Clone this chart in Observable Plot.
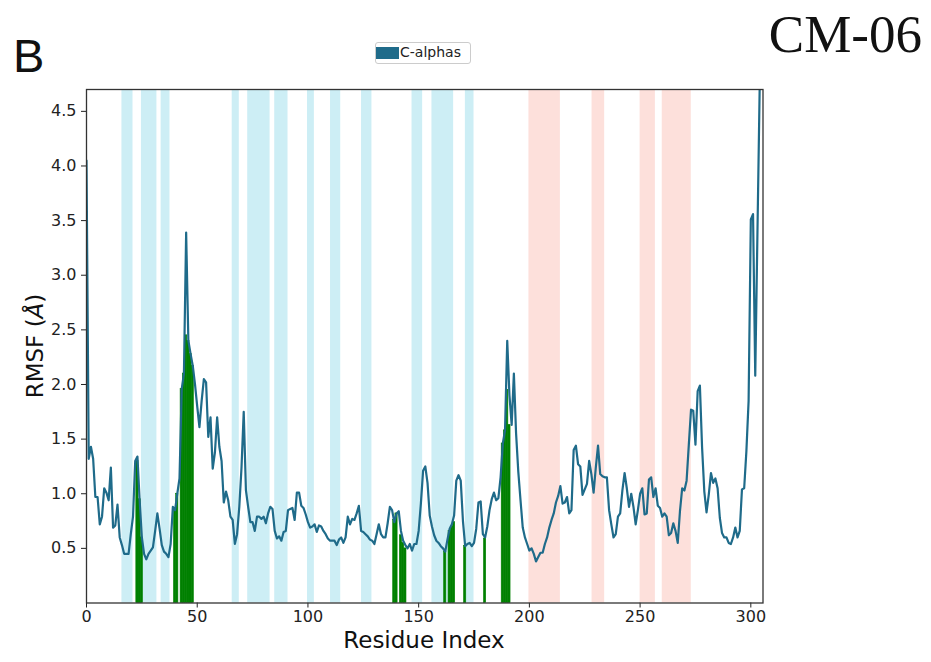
<!DOCTYPE html>
<html>
<head>
<meta charset="utf-8">
<script src="https://cdn.jsdelivr.net/npm/d3@7"></script>
<script src="https://cdn.jsdelivr.net/npm/@observablehq/plot@0.6"></script>
<style>
  body { margin: 0; background: #fff; }
  #wrap { position: relative; width: 931px; height: 662px; overflow: hidden; }
  #wrap svg { position: absolute; left: 0; top: 0; }
  .ov { position: absolute; white-space: nowrap; color: #111; }
  #panel { left: 13px; top: 28px; font: 47px "Liberation Sans", Arial, sans-serif; }
  #title { right: 9px; top: 4px; font: 53px "Liberation Serif", "Times New Roman", serif; }
  #legend { left: 375px; top: 42px; width: 96px; height: 22px; border: 1px solid #ccc; border-radius: 3px; background: #fff; box-sizing: border-box; }
  #legend .sw { position: absolute; left: 0px; top: 4px; width: 23px; height: 12px; background: #1f6b8a; }
  #legend .tx { position: absolute; left: 24px; top: 1px; font: 14px "DejaVu Sans", sans-serif; color: #222; }
  #xlabel { left: 424px; top: 627px; transform: translateX(-50%); font: 23px "DejaVu Sans", sans-serif; }
  #ylabel { left: 35px; top: 346px; transform: translate(-50%, -50%) rotate(-90deg); font: 23px "DejaVu Sans", sans-serif; }
</style>
</head>
<body>
<div id="wrap">
  <div class="ov" id="panel">B</div>
  <div class="ov" id="title">CM-06</div>
  <div class="ov" id="legend"><div class="sw"></div><div class="tx">C-alphas</div></div>
  <div class="ov" id="xlabel">Residue Index</div>
  <div class="ov" id="ylabel">RMSF (<i>Å</i>)</div>
</div>
<script>
// RMSF of C-alpha atoms per residue index (0..304)
const rmsf = [
  4.05, 1.32, 1.43, 1.32, 0.97, 0.97, 0.72, 0.79, 1.05, 1.01,
  0.94, 1.24, 0.69, 0.71, 0.90, 0.60, 0.53, 0.45, 0.45, 0.45,
  0.63, 0.79, 1.30, 1.34, 0.94, 0.60, 0.45, 0.40, 0.45, 0.48,
  0.51, 0.66, 0.82, 0.68, 0.53, 0.47, 0.45, 0.42, 0.54, 0.88,
  0.85, 1.00, 1.14, 1.96, 2.10, 3.39, 2.40, 2.28, 2.17, 2.00,
  1.80, 1.61, 1.85, 2.05, 2.02, 1.52, 1.70, 1.23, 1.38, 1.70,
  1.43, 1.30, 0.92, 1.02, 0.94, 0.79, 0.76, 0.54, 0.63, 0.88,
  1.24, 1.75, 1.03, 0.88, 0.74, 0.74, 0.66, 0.79, 0.79, 0.77,
  0.79, 0.73, 0.82, 0.88, 0.86, 0.66, 0.59, 0.61, 0.57, 0.65,
  0.66, 0.85, 0.86, 0.87, 0.76, 1.01, 1.01, 0.89, 0.87, 0.81,
  0.74, 0.69, 0.70, 0.72, 0.65, 0.71, 0.70, 0.66, 0.63, 0.59,
  0.57, 0.57, 0.57, 0.53, 0.58, 0.60, 0.55, 0.60, 0.79, 0.72,
  0.77, 0.76, 0.82, 0.89, 0.66, 0.65, 0.63, 0.61, 0.58, 0.57,
  0.54, 0.63, 0.72, 0.63, 0.60, 0.60, 0.73, 0.88, 0.85, 0.74,
  0.82, 0.84, 0.66, 0.57, 0.53, 0.50, 0.54, 0.48, 0.54, 0.54,
  0.66, 0.91, 1.21, 1.25, 1.10, 0.80, 0.70, 0.62, 0.57, 0.55,
  0.52, 0.50, 0.47, 0.58, 0.68, 0.72, 0.80, 1.12, 1.17, 1.12,
  0.75, 0.52, 0.54, 0.55, 0.52, 0.55, 0.68, 0.92, 0.93, 0.63,
  0.60, 0.70, 0.85, 0.95, 1.01, 0.94, 0.96, 1.15, 1.46, 1.58,
  2.40, 1.90, 1.63, 2.10, 1.55, 1.20, 0.94, 0.69, 0.60, 0.54,
  0.48, 0.50, 0.45, 0.38, 0.42, 0.46, 0.46, 0.54, 0.60, 0.69,
  0.76, 0.82, 0.92, 0.98, 1.07, 0.91, 0.92, 0.97, 0.82, 0.85,
  1.40, 1.44, 1.27, 1.25, 0.99, 1.04, 1.09, 1.30, 1.18, 1.01,
  1.24, 1.44, 1.18, 1.16, 1.15, 1.15, 0.85, 0.72, 0.60, 0.63,
  0.79, 0.82, 1.03, 1.19, 1.05, 0.88, 1.00, 0.88, 0.72, 0.85,
  1.00, 1.05, 0.81, 0.82, 1.13, 1.15, 0.97, 1.05, 0.89, 0.87,
  0.79, 0.82, 0.79, 0.62, 0.64, 0.73, 0.66, 0.55, 0.84, 1.05,
  1.03, 1.12, 1.45, 1.77, 1.76, 1.45, 1.94, 1.99, 1.42, 1.02,
  0.83, 0.99, 1.19, 1.10, 1.14, 1.05, 0.78, 0.64, 0.60, 0.60,
  0.55, 0.54, 0.60, 0.69, 0.60, 0.66, 1.04, 1.05, 1.39, 1.85,
  3.51, 3.56, 2.08, 3.40, 4.72
];
const residueIndex = rmsf.map((_, i) => i);

// helix spans (light blue) and strand spans (light red)
const helixStart = [16.0, 24.8, 33.7, 65.8, 72.8, 85.0, 99.8, 110.2, 124.2, 147.0, 156.0, 171.1];
const helixEnd   = [21.0, 31.8, 37.7, 69.0, 82.9, 91.0, 102.9, 114.8, 128.9, 151.8, 165.8, 175.0];
const strandStart = [199.8, 228.3, 250.0, 260.0];
const strandEnd   = [214.0, 234.0, 256.9, 273.1];

// contact residues (green bars) and their bar heights
const contactResidue = [23, 24, 25, 40, 41, 43, 44, 45, 46, 47, 48, 139, 140, 142, 143, 144, 162, 164, 165, 166, 171, 180, 188, 189, 190, 191];
const contactHeight  = [1.30, 0.95, 0.60, 0.87, 1.00, 1.96, 2.10, 2.45, 2.40, 2.28, 2.17, 0.76, 0.82, 0.62, 0.55, 0.50, 0.47, 0.66, 0.70, 0.74, 0.52, 0.59, 1.46, 1.58, 1.95, 1.63];

const xTicks = [0, 50, 100, 150, 200, 250, 300];
const yTicks = [0.5, 1.0, 1.5, 2.0, 2.5, 3.0, 3.5, 4.0, 4.5];

const helices = helixStart.map((s, i) => ({start: s, end: helixEnd[i]}));
const strands = strandStart.map((s, i) => ({start: s, end: strandEnd[i]}));
const contacts = contactResidue.map((r, i) => ({r, h: contactHeight[i]}));

const chart = Plot.plot({
  width: 931,
  height: 662,
  marginLeft: 86,
  marginRight: 168.5,
  marginTop: 89,
  marginBottom: 59.5,
  style: {fontFamily: "'DejaVu Sans', sans-serif", fontSize: "16px", color: "#222", background: "transparent", overflow: "visible"},
  x: {domain: [0, 305.5], ticks: xTicks, tickSize: 5, tickPadding: 3, label: null},
  y: {domain: [0, 4.7], ticks: yTicks, tickSize: 5, tickPadding: 5, label: null, tickFormat: d3.format(".1f")},
  marks: [
    Plot.rect(helices, {x1: "start", x2: "end", fill: "#cdeef5"}),
    Plot.rect(strands, {x1: "start", x2: "end", fill: "#fde0db"}),
    Plot.rect(contacts, {x1: d => d.r - 0.5, x2: d => d.r + 0.5, y1: () => 0, y2: "h", fill: "#008000", stroke: "#008000", strokeWidth: 0.6}),
    Plot.line(residueIndex, {x: i => i, y: i => rmsf[i], stroke: "#1f6b8a", strokeWidth: 2.2, clip: true}),
    Plot.frame({stroke: "#333", strokeWidth: 1.3})
  ]
});
document.getElementById("wrap").prepend(chart);
</script>
</body>
</html>
